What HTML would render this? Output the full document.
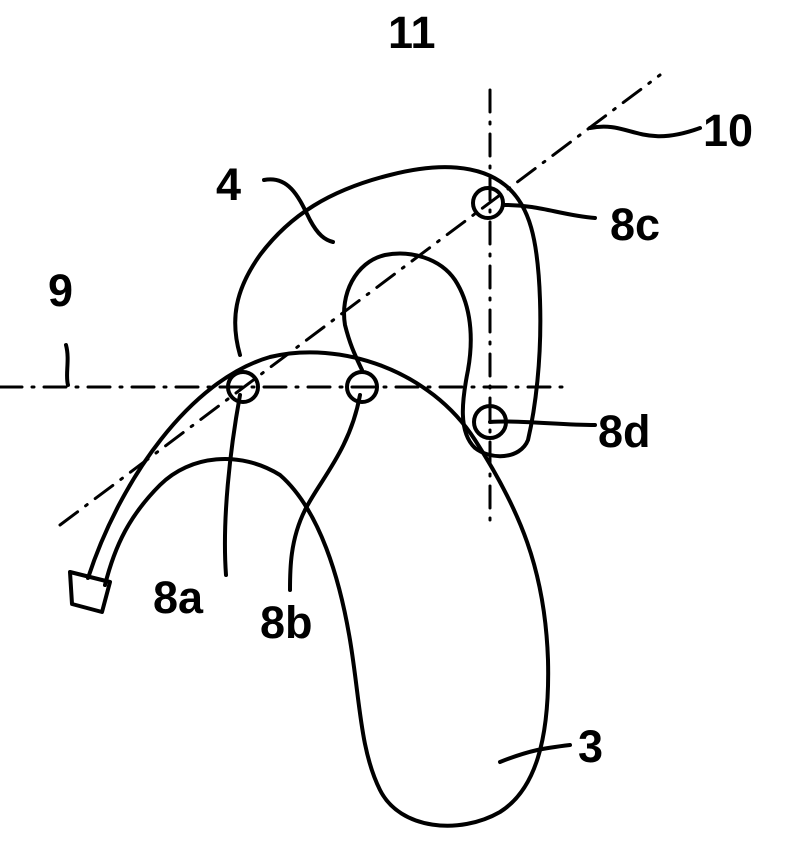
<!DOCTYPE html>
<html><head><style>body{margin:0;background:#fff}svg{display:block}text{font-family:"Liberation Sans",sans-serif;font-weight:bold;font-size:45px;fill:#000}</style></head>
<body>
<svg width="787" height="857" viewBox="0 0 787 857">
<g fill="none" stroke="#000" stroke-width="4" stroke-linecap="round" stroke-linejoin="round">
<path d="M0 387 H570" stroke-width="3" stroke-dasharray="22 10 2 10"/>
<path d="M490 90 V530" stroke-width="3" stroke-dasharray="22 10 2 10"/>
<path d="M60 525 L660 75" stroke-width="3" stroke-dasharray="22 10 2 10"/>
<path d="M88 578 C120 480 190 380 270 357 C340 340 430 370 475 440 C520 510 545 570 548 660 C550 740 535 790 500 812 C460 835 400 830 380 790 C360 750 360 700 350 640 C340 580 320 510 280 475 C240 450 190 455 160 485 C130 515 115 545 105 585"/>
<path d="M70 572 L110 582 L102 612 L72 604 Z"/>
<path d="M240 355 C230 320 235 290 260 255 C290 215 330 190 390 175 C440 162 480 165 505 185 C530 205 538 240 540 300 C542 360 535 410 528 440 C520 460 490 460 475 448 C458 432 462 400 468 370 C475 330 468 300 455 280 C440 258 410 250 385 255 C355 262 340 295 345 325 C350 345 355 355 362 370"/>
<circle cx="243" cy="387" r="15"/>
<circle cx="362" cy="387" r="15"/>
<circle cx="488" cy="203" r="15"/>
<circle cx="490" cy="422" r="16"/>
<path d="M590 128 C630 120 640 150 700 128"/>
<path d="M264 180 C290 175 300 200 310 220 C318 235 325 240 333 242"/>
<path d="M66 345 C70 360 65 375 68 385"/>
<path d="M505 205 C540 205 560 215 595 218"/>
<path d="M490 422 C520 420 560 425 595 425"/>
<path d="M240 395 C230 450 222 520 226 575"/>
<path d="M360 395 C350 450 320 480 305 510 C290 540 290 570 290 590"/>
<path d="M500 762 C530 750 545 748 570 745"/>
</g>
<text x="388" y="48">11</text>
<text x="703" y="146">10</text>
<text x="216" y="200">4</text>
<text x="48" y="306">9</text>
<text x="610" y="240">8c</text>
<text x="598" y="447">8d</text>
<text x="153" y="613">8a</text>
<text x="260" y="638">8b</text>
<text x="578" y="762">3</text>
</svg>
</body></html>
